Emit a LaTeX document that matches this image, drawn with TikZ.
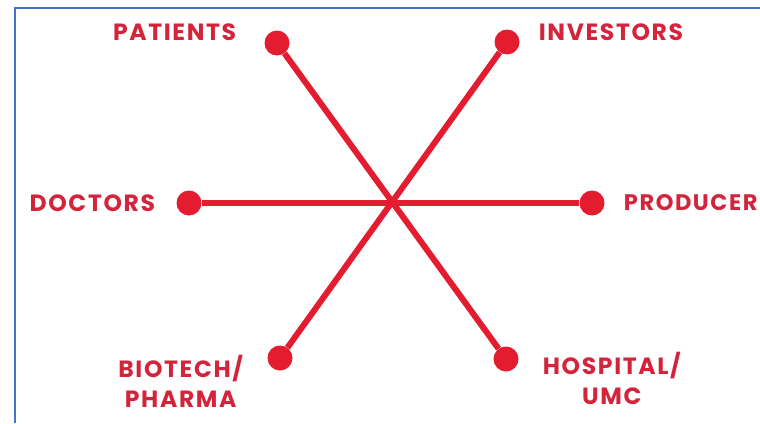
\documentclass[tikz,border=0pt]{standalone}
\usepackage{fontspec}
\setmainfont{Poppins}[LetterSpace=7]
\usetikzlibrary{positioning}
\definecolor{hubred}{RGB}{228,28,48}
\definecolor{tagred}{RGB}{212,36,60}
\definecolor{frameblue}{RGB}{68,114,196}

\begin{document}
\begin{tikzpicture}[
  x=1pt, y=-1pt,
  node distance=22pt,
  dot/.style={circle, fill=hubred, minimum size=25pt, inner sep=0pt},
  tag/.style={text=tagred, inner sep=0pt, align=center,
              font=\bfseries\fontsize{23.5}{30}\selectfont},
  spoke/.style={hubred, line width=6pt}
]
\useasboundingbox (0,0) rectangle (760,423);
\draw[frameblue, line width=2pt] (15,423) -- (15,8) -- (760,8);

\coordinate (hub) at (390,203);
\node[dot] (pat) at (277,43) {};
\node[dot] (inv) at (507,42) {};
\node[dot] (doc) at (189,203) {};
\node[dot] (pro) at (592,203) {};
\node[dot] (bio) at (280,358) {};
\node[dot] (hos) at (506,359) {};

\node[tag, left=28pt of pat, yshift=11pt] (patL) {PATIENTS};
\node[tag, right=19pt of inv, yshift=10pt] (invL) {INVESTORS};
\node[tag, left=21pt of doc] (docL) {DOCTORS};
\node[tag, right=19pt of pro, font=\bfseries\fontsize{22.5}{30}\selectfont] (proL) {PRODUCER};
\node[tag, left=24pt of bio, yshift=-23pt] (bioL) {BIOTECH/\\PHARMA};
\node[tag, right=24pt of hos, yshift=-19pt] (hosL) {HOSPITAL/\\UMC};

\draw[spoke] (pat) -- (hos);
\draw[spoke] (inv) -- (bio);
\draw[spoke] (doc) -- (pro);
\end{tikzpicture}
\end{document}
